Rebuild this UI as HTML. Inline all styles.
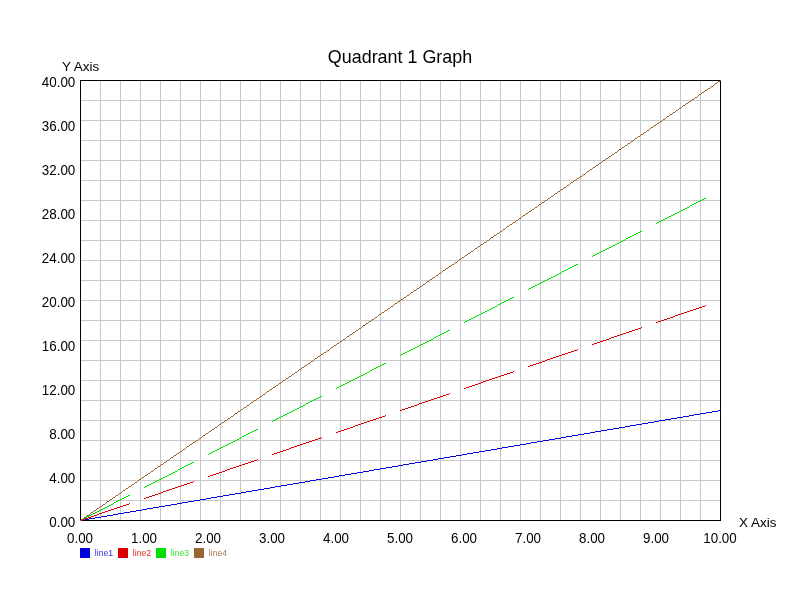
<!DOCTYPE html><html><head><meta charset="utf-8"><title>Quadrant 1 Graph</title><style>html,body{margin:0;padding:0;background:#fff}svg{display:block}text{font-family:"Liberation Sans",Arial,sans-serif;fill:#000}</style></head><body>
<svg width="800" height="600" viewBox="0 0 800 600">
<rect width="800" height="600" fill="#fff"/>
<path d="M100.5 80V520M120.5 80V520M140.5 80V520M160.5 80V520M180.5 80V520M200.5 80V520M220.5 80V520M240.5 80V520M260.5 80V520M280.5 80V520M300.5 80V520M320.5 80V520M340.5 80V520M360.5 80V520M380.5 80V520M400.5 80V520M420.5 80V520M440.5 80V520M460.5 80V520M480.5 80V520M500.5 80V520M520.5 80V520M540.5 80V520M560.5 80V520M580.5 80V520M600.5 80V520M620.5 80V520M640.5 80V520M660.5 80V520M680.5 80V520M700.5 80V520M80 100.5H720M80 120.5H720M80 140.5H720M80 160.5H720M80 180.5H720M80 200.5H720M80 220.5H720M80 240.5H720M80 260.5H720M80 280.5H720M80 300.5H720M80 320.5H720M80 340.5H720M80 360.5H720M80 380.5H720M80 400.5H720M80 420.5H720M80 440.5H720M80 460.5H720M80 480.5H720M80 500.5H720" stroke="#c8c8c8" stroke-width="1" fill="none" shape-rendering="crispEdges"/>
<path d="M80.5 80.5H720.5V520.5H80.5Z" stroke="#000" stroke-width="1" fill="none" shape-rendering="crispEdges"/>
<g shape-rendering="crispEdges" stroke="none">
<path d="M80 520h3v1h-3zM83 519h6v1h-6zM89 518h6v1h-6zM95 517h6v1h-6zM101 516h6v1h-6zM107 515h6v1h-6zM113 514h5v1h-5zM118 513h6v1h-6zM124 512h6v1h-6zM130 511h6v1h-6zM136 510h6v1h-6zM142 509h5v1h-5zM147 508h6v1h-6zM153 507h6v1h-6zM159 506h6v1h-6zM165 505h6v1h-6zM171 504h6v1h-6zM177 503h5v1h-5zM182 502h6v1h-6zM188 501h6v1h-6zM194 500h6v1h-6zM200 499h6v1h-6zM206 498h5v1h-5zM211 497h6v1h-6zM217 496h6v1h-6zM223 495h6v1h-6zM229 494h6v1h-6zM235 493h6v1h-6zM241 492h5v1h-5zM246 491h6v1h-6zM252 490h6v1h-6zM258 489h6v1h-6zM264 488h6v1h-6zM270 487h5v1h-5zM275 486h6v1h-6zM281 485h6v1h-6zM287 484h6v1h-6zM293 483h6v1h-6zM299 482h6v1h-6zM305 481h5v1h-5zM310 480h6v1h-6zM316 479h6v1h-6zM322 478h6v1h-6zM328 477h6v1h-6zM334 476h5v1h-5zM339 475h6v1h-6zM345 474h6v1h-6zM351 473h6v1h-6zM357 472h6v1h-6zM363 471h6v1h-6zM369 470h5v1h-5zM374 469h6v1h-6zM380 468h6v1h-6zM386 467h6v1h-6zM392 466h6v1h-6zM398 465h5v1h-5zM403 464h6v1h-6zM409 463h6v1h-6zM415 462h6v1h-6zM421 461h6v1h-6zM427 460h6v1h-6zM433 459h5v1h-5zM438 458h6v1h-6zM444 457h6v1h-6zM450 456h6v1h-6zM456 455h6v1h-6zM462 454h5v1h-5zM467 453h6v1h-6zM473 452h6v1h-6zM479 451h6v1h-6zM485 450h6v1h-6zM491 449h6v1h-6zM497 448h5v1h-5zM502 447h6v1h-6zM508 446h6v1h-6zM514 445h6v1h-6zM520 444h6v1h-6zM526 443h5v1h-5zM531 442h6v1h-6zM537 441h6v1h-6zM543 440h6v1h-6zM549 439h6v1h-6zM555 438h6v1h-6zM561 437h5v1h-5zM566 436h6v1h-6zM572 435h6v1h-6zM578 434h6v1h-6zM584 433h6v1h-6zM590 432h5v1h-5zM595 431h6v1h-6zM601 430h6v1h-6zM607 429h6v1h-6zM613 428h6v1h-6zM619 427h6v1h-6zM625 426h5v1h-5zM630 425h6v1h-6zM636 424h6v1h-6zM642 423h6v1h-6zM648 422h6v1h-6zM654 421h5v1h-5zM659 420h6v1h-6zM665 419h6v1h-6zM671 418h6v1h-6zM677 417h6v1h-6zM683 416h6v1h-6zM689 415h5v1h-5zM694 414h6v1h-6zM700 413h6v1h-6zM706 412h6v1h-6zM712 411h6v1h-6zM718 410h3v1h-3z" fill="#0000dd"/>
<path d="M80 520h2v1h-2zM82 519h3v1h-3zM85 518h3v1h-3zM88 517h3v1h-3zM91 516h3v1h-3zM94 515h3v1h-3zM97 514h2v1h-2zM99 513h3v1h-3zM102 512h3v1h-3zM105 511h3v1h-3zM108 510h3v1h-3zM111 509h3v1h-3zM114 508h3v1h-3zM117 507h3v1h-3zM120 506h3v1h-3zM123 505h3v1h-3zM126 504h3v1h-3zM129 503h1v1h-1zM144 498h2v1h-2zM146 497h3v1h-3zM149 496h3v1h-3zM152 495h3v1h-3zM155 494h3v1h-3zM158 493h3v1h-3zM161 492h2v1h-2zM163 491h3v1h-3zM166 490h3v1h-3zM169 489h3v1h-3zM172 488h3v1h-3zM175 487h3v1h-3zM178 486h3v1h-3zM181 485h3v1h-3zM184 484h3v1h-3zM187 483h3v1h-3zM190 482h3v1h-3zM193 481h1v1h-1zM208 476h2v1h-2zM210 475h3v1h-3zM213 474h3v1h-3zM216 473h3v1h-3zM219 472h3v1h-3zM222 471h3v1h-3zM225 470h2v1h-2zM227 469h3v1h-3zM230 468h3v1h-3zM233 467h3v1h-3zM236 466h3v1h-3zM239 465h3v1h-3zM242 464h3v1h-3zM245 463h3v1h-3zM248 462h3v1h-3zM251 461h3v1h-3zM254 460h3v1h-3zM257 459h1v1h-1zM272 454h2v1h-2zM274 453h3v1h-3zM277 452h3v1h-3zM280 451h3v1h-3zM283 450h3v1h-3zM286 449h3v1h-3zM289 448h2v1h-2zM291 447h3v1h-3zM294 446h3v1h-3zM297 445h3v1h-3zM300 444h3v1h-3zM303 443h3v1h-3zM306 442h3v1h-3zM309 441h3v1h-3zM312 440h3v1h-3zM315 439h3v1h-3zM318 438h3v1h-3zM321 437h1v1h-1zM336 432h2v1h-2zM338 431h3v1h-3zM341 430h3v1h-3zM344 429h3v1h-3zM347 428h3v1h-3zM350 427h3v1h-3zM353 426h2v1h-2zM355 425h3v1h-3zM358 424h3v1h-3zM361 423h3v1h-3zM364 422h3v1h-3zM367 421h3v1h-3zM370 420h3v1h-3zM373 419h3v1h-3zM376 418h3v1h-3zM379 417h3v1h-3zM382 416h3v1h-3zM385 415h1v1h-1zM400 410h2v1h-2zM402 409h3v1h-3zM405 408h3v1h-3zM408 407h3v1h-3zM411 406h3v1h-3zM414 405h3v1h-3zM417 404h2v1h-2zM419 403h3v1h-3zM422 402h3v1h-3zM425 401h3v1h-3zM428 400h3v1h-3zM431 399h3v1h-3zM434 398h3v1h-3zM437 397h3v1h-3zM440 396h3v1h-3zM443 395h3v1h-3zM446 394h3v1h-3zM449 393h1v1h-1zM464 388h2v1h-2zM466 387h3v1h-3zM469 386h3v1h-3zM472 385h3v1h-3zM475 384h3v1h-3zM478 383h3v1h-3zM481 382h2v1h-2zM483 381h3v1h-3zM486 380h3v1h-3zM489 379h3v1h-3zM492 378h3v1h-3zM495 377h3v1h-3zM498 376h3v1h-3zM501 375h3v1h-3zM504 374h3v1h-3zM507 373h3v1h-3zM510 372h3v1h-3zM513 371h1v1h-1zM528 366h2v1h-2zM530 365h3v1h-3zM533 364h3v1h-3zM536 363h3v1h-3zM539 362h3v1h-3zM542 361h3v1h-3zM545 360h2v1h-2zM547 359h3v1h-3zM550 358h3v1h-3zM553 357h3v1h-3zM556 356h3v1h-3zM559 355h3v1h-3zM562 354h3v1h-3zM565 353h3v1h-3zM568 352h3v1h-3zM571 351h3v1h-3zM574 350h3v1h-3zM577 349h1v1h-1zM592 344h2v1h-2zM594 343h3v1h-3zM597 342h3v1h-3zM600 341h3v1h-3zM603 340h3v1h-3zM606 339h3v1h-3zM609 338h2v1h-2zM611 337h3v1h-3zM614 336h3v1h-3zM617 335h3v1h-3zM620 334h3v1h-3zM623 333h3v1h-3zM626 332h3v1h-3zM629 331h3v1h-3zM632 330h3v1h-3zM635 329h3v1h-3zM638 328h3v1h-3zM641 327h1v1h-1zM656 322h2v1h-2zM658 321h3v1h-3zM661 320h3v1h-3zM664 319h3v1h-3zM667 318h3v1h-3zM670 317h3v1h-3zM673 316h2v1h-2zM675 315h3v1h-3zM678 314h3v1h-3zM681 313h3v1h-3zM684 312h3v1h-3zM687 311h3v1h-3zM690 310h3v1h-3zM693 309h3v1h-3zM696 308h3v1h-3zM699 307h3v1h-3zM702 306h3v1h-3zM705 305h1v1h-1z" fill="#dd0000"/>
<path d="M80 520h1v1h-1zM81 519h2v1h-2zM83 518h2v1h-2zM85 517h2v1h-2zM87 516h2v1h-2zM89 515h2v1h-2zM91 514h2v1h-2zM93 513h2v1h-2zM95 512h2v1h-2zM97 511h2v1h-2zM99 510h2v1h-2zM101 509h2v1h-2zM103 508h2v1h-2zM105 507h2v1h-2zM107 506h2v1h-2zM109 505h2v1h-2zM111 504h2v1h-2zM113 503h1v1h-1zM114 502h2v1h-2zM116 501h2v1h-2zM118 500h2v1h-2zM120 499h2v1h-2zM122 498h2v1h-2zM124 497h2v1h-2zM126 496h2v1h-2zM128 495h2v1h-2zM144 487h1v1h-1zM145 486h2v1h-2zM147 485h2v1h-2zM149 484h2v1h-2zM151 483h2v1h-2zM153 482h2v1h-2zM155 481h2v1h-2zM157 480h2v1h-2zM159 479h2v1h-2zM161 478h2v1h-2zM163 477h2v1h-2zM165 476h2v1h-2zM167 475h2v1h-2zM169 474h2v1h-2zM171 473h2v1h-2zM173 472h2v1h-2zM175 471h2v1h-2zM177 470h1v1h-1zM178 469h2v1h-2zM180 468h2v1h-2zM182 467h2v1h-2zM184 466h2v1h-2zM186 465h2v1h-2zM188 464h2v1h-2zM190 463h2v1h-2zM192 462h2v1h-2zM208 454h1v1h-1zM209 453h2v1h-2zM211 452h2v1h-2zM213 451h2v1h-2zM215 450h2v1h-2zM217 449h2v1h-2zM219 448h2v1h-2zM221 447h2v1h-2zM223 446h2v1h-2zM225 445h2v1h-2zM227 444h2v1h-2zM229 443h2v1h-2zM231 442h2v1h-2zM233 441h2v1h-2zM235 440h2v1h-2zM237 439h2v1h-2zM239 438h2v1h-2zM241 437h1v1h-1zM242 436h2v1h-2zM244 435h2v1h-2zM246 434h2v1h-2zM248 433h2v1h-2zM250 432h2v1h-2zM252 431h2v1h-2zM254 430h2v1h-2zM256 429h2v1h-2zM272 421h1v1h-1zM273 420h2v1h-2zM275 419h2v1h-2zM277 418h2v1h-2zM279 417h2v1h-2zM281 416h2v1h-2zM283 415h2v1h-2zM285 414h2v1h-2zM287 413h2v1h-2zM289 412h2v1h-2zM291 411h2v1h-2zM293 410h2v1h-2zM295 409h2v1h-2zM297 408h2v1h-2zM299 407h2v1h-2zM301 406h2v1h-2zM303 405h2v1h-2zM305 404h1v1h-1zM306 403h2v1h-2zM308 402h2v1h-2zM310 401h2v1h-2zM312 400h2v1h-2zM314 399h2v1h-2zM316 398h2v1h-2zM318 397h2v1h-2zM320 396h2v1h-2zM336 388h1v1h-1zM337 387h2v1h-2zM339 386h2v1h-2zM341 385h2v1h-2zM343 384h2v1h-2zM345 383h2v1h-2zM347 382h2v1h-2zM349 381h2v1h-2zM351 380h2v1h-2zM353 379h2v1h-2zM355 378h2v1h-2zM357 377h2v1h-2zM359 376h2v1h-2zM361 375h2v1h-2zM363 374h2v1h-2zM365 373h2v1h-2zM367 372h2v1h-2zM369 371h1v1h-1zM370 370h2v1h-2zM372 369h2v1h-2zM374 368h2v1h-2zM376 367h2v1h-2zM378 366h2v1h-2zM380 365h2v1h-2zM382 364h2v1h-2zM384 363h2v1h-2zM400 355h1v1h-1zM401 354h2v1h-2zM403 353h2v1h-2zM405 352h2v1h-2zM407 351h2v1h-2zM409 350h2v1h-2zM411 349h2v1h-2zM413 348h2v1h-2zM415 347h2v1h-2zM417 346h2v1h-2zM419 345h2v1h-2zM421 344h2v1h-2zM423 343h2v1h-2zM425 342h2v1h-2zM427 341h2v1h-2zM429 340h2v1h-2zM431 339h2v1h-2zM433 338h1v1h-1zM434 337h2v1h-2zM436 336h2v1h-2zM438 335h2v1h-2zM440 334h2v1h-2zM442 333h2v1h-2zM444 332h2v1h-2zM446 331h2v1h-2zM448 330h2v1h-2zM464 322h1v1h-1zM465 321h2v1h-2zM467 320h2v1h-2zM469 319h2v1h-2zM471 318h2v1h-2zM473 317h2v1h-2zM475 316h2v1h-2zM477 315h2v1h-2zM479 314h2v1h-2zM481 313h2v1h-2zM483 312h2v1h-2zM485 311h2v1h-2zM487 310h2v1h-2zM489 309h2v1h-2zM491 308h2v1h-2zM493 307h2v1h-2zM495 306h2v1h-2zM497 305h1v1h-1zM498 304h2v1h-2zM500 303h2v1h-2zM502 302h2v1h-2zM504 301h2v1h-2zM506 300h2v1h-2zM508 299h2v1h-2zM510 298h2v1h-2zM512 297h2v1h-2zM528 289h1v1h-1zM529 288h2v1h-2zM531 287h2v1h-2zM533 286h2v1h-2zM535 285h2v1h-2zM537 284h2v1h-2zM539 283h2v1h-2zM541 282h2v1h-2zM543 281h2v1h-2zM545 280h2v1h-2zM547 279h2v1h-2zM549 278h2v1h-2zM551 277h2v1h-2zM553 276h2v1h-2zM555 275h2v1h-2zM557 274h2v1h-2zM559 273h2v1h-2zM561 272h1v1h-1zM562 271h2v1h-2zM564 270h2v1h-2zM566 269h2v1h-2zM568 268h2v1h-2zM570 267h2v1h-2zM572 266h2v1h-2zM574 265h2v1h-2zM576 264h2v1h-2zM592 256h1v1h-1zM593 255h2v1h-2zM595 254h2v1h-2zM597 253h2v1h-2zM599 252h2v1h-2zM601 251h2v1h-2zM603 250h2v1h-2zM605 249h2v1h-2zM607 248h2v1h-2zM609 247h2v1h-2zM611 246h2v1h-2zM613 245h2v1h-2zM615 244h2v1h-2zM617 243h2v1h-2zM619 242h2v1h-2zM621 241h2v1h-2zM623 240h2v1h-2zM625 239h1v1h-1zM626 238h2v1h-2zM628 237h2v1h-2zM630 236h2v1h-2zM632 235h2v1h-2zM634 234h2v1h-2zM636 233h2v1h-2zM638 232h2v1h-2zM640 231h2v1h-2zM656 223h1v1h-1zM657 222h2v1h-2zM659 221h2v1h-2zM661 220h2v1h-2zM663 219h2v1h-2zM665 218h2v1h-2zM667 217h2v1h-2zM669 216h2v1h-2zM671 215h2v1h-2zM673 214h2v1h-2zM675 213h2v1h-2zM677 212h2v1h-2zM679 211h2v1h-2zM681 210h2v1h-2zM683 209h2v1h-2zM685 208h2v1h-2zM687 207h2v1h-2zM689 206h1v1h-1zM690 205h2v1h-2zM692 204h2v1h-2zM694 203h2v1h-2zM696 202h2v1h-2zM698 201h2v1h-2zM700 200h2v1h-2zM702 199h2v1h-2zM704 198h2v1h-2z" fill="#00dd00"/>
<path d="M80 520h1v1h-1zM81 519h2v1h-2zM83 518h1v1h-1zM84 517h2v1h-2zM86 516h1v1h-1zM87 515h2v1h-2zM89 514h1v1h-1zM90 513h1v1h-1zM91 512h2v1h-2zM93 511h1v1h-1zM94 510h2v1h-2zM96 509h1v1h-1zM97 508h2v1h-2zM99 507h1v1h-1zM100 506h2v1h-2zM102 505h1v1h-1zM103 504h2v1h-2zM105 503h1v1h-1zM106 502h1v1h-1zM107 501h2v1h-2zM109 500h1v1h-1zM110 499h2v1h-2zM112 498h1v1h-1zM113 497h2v1h-2zM115 496h1v1h-1zM116 495h2v1h-2zM118 494h1v1h-1zM119 493h2v1h-2zM121 492h1v1h-1zM122 491h1v1h-1zM123 490h2v1h-2zM125 489h1v1h-1zM126 488h2v1h-2zM128 487h1v1h-1zM129 486h2v1h-2zM131 485h1v1h-1zM132 484h2v1h-2zM134 483h1v1h-1zM135 482h2v1h-2zM137 481h1v1h-1zM138 480h1v1h-1zM139 479h2v1h-2zM141 478h1v1h-1zM142 477h2v1h-2zM144 476h1v1h-1zM145 475h2v1h-2zM147 474h1v1h-1zM148 473h2v1h-2zM150 472h1v1h-1zM151 471h2v1h-2zM153 470h1v1h-1zM154 469h1v1h-1zM155 468h2v1h-2zM157 467h1v1h-1zM158 466h2v1h-2zM160 465h1v1h-1zM161 464h2v1h-2zM163 463h1v1h-1zM164 462h2v1h-2zM166 461h1v1h-1zM167 460h2v1h-2zM169 459h1v1h-1zM170 458h1v1h-1zM171 457h2v1h-2zM173 456h1v1h-1zM174 455h2v1h-2zM176 454h1v1h-1zM177 453h2v1h-2zM179 452h1v1h-1zM180 451h2v1h-2zM182 450h1v1h-1zM183 449h2v1h-2zM185 448h1v1h-1zM186 447h1v1h-1zM187 446h2v1h-2zM189 445h1v1h-1zM190 444h2v1h-2zM192 443h1v1h-1zM193 442h2v1h-2zM195 441h1v1h-1zM196 440h2v1h-2zM198 439h1v1h-1zM199 438h2v1h-2zM201 437h1v1h-1zM202 436h1v1h-1zM203 435h2v1h-2zM205 434h1v1h-1zM206 433h2v1h-2zM208 432h1v1h-1zM209 431h2v1h-2zM211 430h1v1h-1zM212 429h2v1h-2zM214 428h1v1h-1zM215 427h2v1h-2zM217 426h1v1h-1zM218 425h1v1h-1zM219 424h2v1h-2zM221 423h1v1h-1zM222 422h2v1h-2zM224 421h1v1h-1zM225 420h2v1h-2zM227 419h1v1h-1zM228 418h2v1h-2zM230 417h1v1h-1zM231 416h2v1h-2zM233 415h1v1h-1zM234 414h1v1h-1zM235 413h2v1h-2zM237 412h1v1h-1zM238 411h2v1h-2zM240 410h1v1h-1zM241 409h2v1h-2zM243 408h1v1h-1zM244 407h2v1h-2zM246 406h1v1h-1zM247 405h2v1h-2zM249 404h1v1h-1zM250 403h1v1h-1zM251 402h2v1h-2zM253 401h1v1h-1zM254 400h2v1h-2zM256 399h1v1h-1zM257 398h2v1h-2zM259 397h1v1h-1zM260 396h2v1h-2zM262 395h1v1h-1zM263 394h2v1h-2zM265 393h1v1h-1zM266 392h1v1h-1zM267 391h2v1h-2zM269 390h1v1h-1zM270 389h2v1h-2zM272 388h1v1h-1zM273 387h2v1h-2zM275 386h1v1h-1zM276 385h2v1h-2zM278 384h1v1h-1zM279 383h2v1h-2zM281 382h1v1h-1zM282 381h1v1h-1zM283 380h2v1h-2zM285 379h1v1h-1zM286 378h2v1h-2zM288 377h1v1h-1zM289 376h2v1h-2zM291 375h1v1h-1zM292 374h2v1h-2zM294 373h1v1h-1zM295 372h2v1h-2zM297 371h1v1h-1zM298 370h1v1h-1zM299 369h2v1h-2zM301 368h1v1h-1zM302 367h2v1h-2zM304 366h1v1h-1zM305 365h2v1h-2zM307 364h1v1h-1zM308 363h2v1h-2zM310 362h1v1h-1zM311 361h2v1h-2zM313 360h1v1h-1zM314 359h1v1h-1zM315 358h2v1h-2zM317 357h1v1h-1zM318 356h2v1h-2zM320 355h1v1h-1zM321 354h2v1h-2zM323 353h1v1h-1zM324 352h2v1h-2zM326 351h1v1h-1zM327 350h2v1h-2zM329 349h1v1h-1zM330 348h1v1h-1zM331 347h2v1h-2zM333 346h1v1h-1zM334 345h2v1h-2zM336 344h1v1h-1zM337 343h2v1h-2zM339 342h1v1h-1zM340 341h2v1h-2zM342 340h1v1h-1zM343 339h2v1h-2zM345 338h1v1h-1zM346 337h1v1h-1zM347 336h2v1h-2zM349 335h1v1h-1zM350 334h2v1h-2zM352 333h1v1h-1zM353 332h2v1h-2zM355 331h1v1h-1zM356 330h2v1h-2zM358 329h1v1h-1zM359 328h2v1h-2zM361 327h1v1h-1zM362 326h1v1h-1zM363 325h2v1h-2zM365 324h1v1h-1zM366 323h2v1h-2zM368 322h1v1h-1zM369 321h2v1h-2zM371 320h1v1h-1zM372 319h2v1h-2zM374 318h1v1h-1zM375 317h2v1h-2zM377 316h1v1h-1zM378 315h1v1h-1zM379 314h2v1h-2zM381 313h1v1h-1zM382 312h2v1h-2zM384 311h1v1h-1zM385 310h2v1h-2zM387 309h1v1h-1zM388 308h2v1h-2zM390 307h1v1h-1zM391 306h2v1h-2zM393 305h1v1h-1zM394 304h1v1h-1zM395 303h2v1h-2zM397 302h1v1h-1zM398 301h2v1h-2zM400 300h1v1h-1zM401 299h2v1h-2zM403 298h1v1h-1zM404 297h2v1h-2zM406 296h1v1h-1zM407 295h2v1h-2zM409 294h1v1h-1zM410 293h1v1h-1zM411 292h2v1h-2zM413 291h1v1h-1zM414 290h2v1h-2zM416 289h1v1h-1zM417 288h2v1h-2zM419 287h1v1h-1zM420 286h2v1h-2zM422 285h1v1h-1zM423 284h2v1h-2zM425 283h1v1h-1zM426 282h1v1h-1zM427 281h2v1h-2zM429 280h1v1h-1zM430 279h2v1h-2zM432 278h1v1h-1zM433 277h2v1h-2zM435 276h1v1h-1zM436 275h2v1h-2zM438 274h1v1h-1zM439 273h2v1h-2zM441 272h1v1h-1zM442 271h1v1h-1zM443 270h2v1h-2zM445 269h1v1h-1zM446 268h2v1h-2zM448 267h1v1h-1zM449 266h2v1h-2zM451 265h1v1h-1zM452 264h2v1h-2zM454 263h1v1h-1zM455 262h2v1h-2zM457 261h1v1h-1zM458 260h1v1h-1zM459 259h2v1h-2zM461 258h1v1h-1zM462 257h2v1h-2zM464 256h1v1h-1zM465 255h2v1h-2zM467 254h1v1h-1zM468 253h2v1h-2zM470 252h1v1h-1zM471 251h2v1h-2zM473 250h1v1h-1zM474 249h1v1h-1zM475 248h2v1h-2zM477 247h1v1h-1zM478 246h2v1h-2zM480 245h1v1h-1zM481 244h2v1h-2zM483 243h1v1h-1zM484 242h2v1h-2zM486 241h1v1h-1zM487 240h2v1h-2zM489 239h1v1h-1zM490 238h1v1h-1zM491 237h2v1h-2zM493 236h1v1h-1zM494 235h2v1h-2zM496 234h1v1h-1zM497 233h2v1h-2zM499 232h1v1h-1zM500 231h2v1h-2zM502 230h1v1h-1zM503 229h2v1h-2zM505 228h1v1h-1zM506 227h1v1h-1zM507 226h2v1h-2zM509 225h1v1h-1zM510 224h2v1h-2zM512 223h1v1h-1zM513 222h2v1h-2zM515 221h1v1h-1zM516 220h2v1h-2zM518 219h1v1h-1zM519 218h2v1h-2zM521 217h1v1h-1zM522 216h1v1h-1zM523 215h2v1h-2zM525 214h1v1h-1zM526 213h2v1h-2zM528 212h1v1h-1zM529 211h2v1h-2zM531 210h1v1h-1zM532 209h2v1h-2zM534 208h1v1h-1zM535 207h2v1h-2zM537 206h1v1h-1zM538 205h1v1h-1zM539 204h2v1h-2zM541 203h1v1h-1zM542 202h2v1h-2zM544 201h1v1h-1zM545 200h2v1h-2zM547 199h1v1h-1zM548 198h2v1h-2zM550 197h1v1h-1zM551 196h2v1h-2zM553 195h1v1h-1zM554 194h1v1h-1zM555 193h2v1h-2zM557 192h1v1h-1zM558 191h2v1h-2zM560 190h1v1h-1zM561 189h2v1h-2zM563 188h1v1h-1zM564 187h2v1h-2zM566 186h1v1h-1zM567 185h2v1h-2zM569 184h1v1h-1zM570 183h1v1h-1zM571 182h2v1h-2zM573 181h1v1h-1zM574 180h2v1h-2zM576 179h1v1h-1zM577 178h2v1h-2zM579 177h1v1h-1zM580 176h2v1h-2zM582 175h1v1h-1zM583 174h2v1h-2zM585 173h1v1h-1zM586 172h1v1h-1zM587 171h2v1h-2zM589 170h1v1h-1zM590 169h2v1h-2zM592 168h1v1h-1zM593 167h2v1h-2zM595 166h1v1h-1zM596 165h2v1h-2zM598 164h1v1h-1zM599 163h2v1h-2zM601 162h1v1h-1zM602 161h1v1h-1zM603 160h2v1h-2zM605 159h1v1h-1zM606 158h2v1h-2zM608 157h1v1h-1zM609 156h2v1h-2zM611 155h1v1h-1zM612 154h2v1h-2zM614 153h1v1h-1zM615 152h2v1h-2zM617 151h1v1h-1zM618 150h1v1h-1zM619 149h2v1h-2zM621 148h1v1h-1zM622 147h2v1h-2zM624 146h1v1h-1zM625 145h2v1h-2zM627 144h1v1h-1zM628 143h2v1h-2zM630 142h1v1h-1zM631 141h2v1h-2zM633 140h1v1h-1zM634 139h1v1h-1zM635 138h2v1h-2zM637 137h1v1h-1zM638 136h2v1h-2zM640 135h1v1h-1zM641 134h2v1h-2zM643 133h1v1h-1zM644 132h2v1h-2zM646 131h1v1h-1zM647 130h2v1h-2zM649 129h1v1h-1zM650 128h1v1h-1zM651 127h2v1h-2zM653 126h1v1h-1zM654 125h2v1h-2zM656 124h1v1h-1zM657 123h2v1h-2zM659 122h1v1h-1zM660 121h2v1h-2zM662 120h1v1h-1zM663 119h2v1h-2zM665 118h1v1h-1zM666 117h1v1h-1zM667 116h2v1h-2zM669 115h1v1h-1zM670 114h2v1h-2zM672 113h1v1h-1zM673 112h2v1h-2zM675 111h1v1h-1zM676 110h2v1h-2zM678 109h1v1h-1zM679 108h2v1h-2zM681 107h1v1h-1zM682 106h1v1h-1zM683 105h2v1h-2zM685 104h1v1h-1zM686 103h2v1h-2zM688 102h1v1h-1zM689 101h2v1h-2zM691 100h1v1h-1zM692 99h2v1h-2zM694 98h1v1h-1zM695 97h2v1h-2zM697 96h1v1h-1zM698 95h1v1h-1zM699 94h2v1h-2zM701 93h1v1h-1zM702 92h2v1h-2zM704 91h1v1h-1zM705 90h2v1h-2zM707 89h1v1h-1zM708 88h2v1h-2zM710 87h1v1h-1zM711 86h2v1h-2zM713 85h1v1h-1zM714 84h1v1h-1zM715 83h2v1h-2zM717 82h1v1h-1zM718 81h2v1h-2zM720 80h1v1h-1z" fill="#996633"/>
</g>
<text transform="translate(400 62.8) scale(0.964 1)" font-size="18.6" text-anchor="middle">Quadrant 1 Graph</text>
<text transform="translate(62 71.2) scale(0.985 1)" font-size="13.7">Y Axis</text>
<text transform="translate(739 527.1) scale(0.985 1)" font-size="13.7">X Axis</text>
<text transform="translate(75.3 527.4) scale(0.971 1)" font-size="13.8" text-anchor="end">0.00</text>
<text transform="translate(75.3 483.4) scale(0.971 1)" font-size="13.8" text-anchor="end">4.00</text>
<text transform="translate(75.3 439.4) scale(0.971 1)" font-size="13.8" text-anchor="end">8.00</text>
<text transform="translate(75.3 395.4) scale(0.971 1)" font-size="13.8" text-anchor="end">12.00</text>
<text transform="translate(75.3 351.4) scale(0.971 1)" font-size="13.8" text-anchor="end">16.00</text>
<text transform="translate(75.3 307.4) scale(0.971 1)" font-size="13.8" text-anchor="end">20.00</text>
<text transform="translate(75.3 263.4) scale(0.971 1)" font-size="13.8" text-anchor="end">24.00</text>
<text transform="translate(75.3 219.4) scale(0.971 1)" font-size="13.8" text-anchor="end">28.00</text>
<text transform="translate(75.3 175.4) scale(0.971 1)" font-size="13.8" text-anchor="end">32.00</text>
<text transform="translate(75.3 131.4) scale(0.971 1)" font-size="13.8" text-anchor="end">36.00</text>
<text transform="translate(75.3 87.4) scale(0.971 1)" font-size="13.8" text-anchor="end">40.00</text>
<text transform="translate(80 543.3) scale(0.955 1)" font-size="14" text-anchor="middle">0.00</text>
<text transform="translate(144 543.3) scale(0.955 1)" font-size="14" text-anchor="middle">1.00</text>
<text transform="translate(208 543.3) scale(0.955 1)" font-size="14" text-anchor="middle">2.00</text>
<text transform="translate(272 543.3) scale(0.955 1)" font-size="14" text-anchor="middle">3.00</text>
<text transform="translate(336 543.3) scale(0.955 1)" font-size="14" text-anchor="middle">4.00</text>
<text transform="translate(400 543.3) scale(0.955 1)" font-size="14" text-anchor="middle">5.00</text>
<text transform="translate(464 543.3) scale(0.955 1)" font-size="14" text-anchor="middle">6.00</text>
<text transform="translate(528 543.3) scale(0.955 1)" font-size="14" text-anchor="middle">7.00</text>
<text transform="translate(592 543.3) scale(0.955 1)" font-size="14" text-anchor="middle">8.00</text>
<text transform="translate(656 543.3) scale(0.955 1)" font-size="14" text-anchor="middle">9.00</text>
<text transform="translate(720 543.3) scale(0.955 1)" font-size="14" text-anchor="middle">10.00</text>
<rect x="80" y="548" width="10" height="10" fill="#0000dd" shape-rendering="crispEdges"/>
<text x="94.8" y="555.7" font-size="8.7" style="fill:#0000dd" opacity=".85">line1</text>
<rect x="118" y="548" width="10" height="10" fill="#dd0000" shape-rendering="crispEdges"/>
<text x="132.8" y="555.7" font-size="8.7" style="fill:#dd0000" opacity=".85">line2</text>
<rect x="156" y="548" width="10" height="10" fill="#00dd00" shape-rendering="crispEdges"/>
<text x="170.8" y="555.7" font-size="8.7" style="fill:#00dd00" opacity=".85">line3</text>
<rect x="194" y="548" width="10" height="10" fill="#996633" shape-rendering="crispEdges"/>
<text x="208.8" y="555.7" font-size="8.7" style="fill:#996633" opacity=".85">line4</text>
</svg></body></html>
